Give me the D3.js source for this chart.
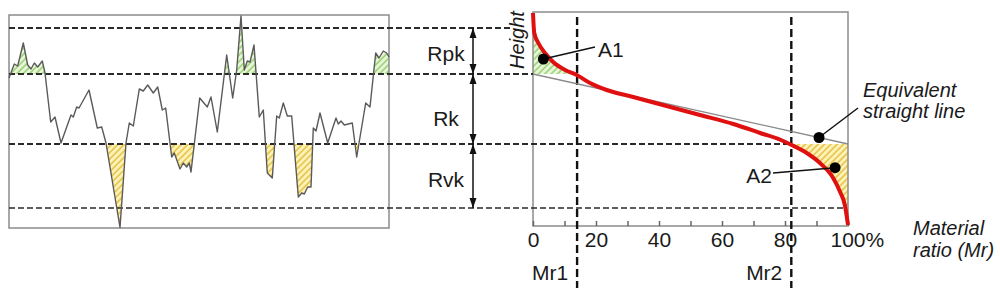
<!DOCTYPE html>
<html>
<head>
<meta charset="utf-8">
<script src="https://cdn.jsdelivr.net/npm/d3@7"></script>
<style>
  body { margin: 0; background: #fff; }
  svg { display: block; font-family: "Liberation Sans", Arial, sans-serif; }
</style>
</head>
<body>
<svg width="1000" height="288"></svg>
<script>
// roughness profile (position, height)
var profilePos = [0, 5.3, 8.7, 14.3, 18.7, 22, 25.3, 28.7, 33.3, 36, 41.7, 46, 52, 62, 64.3, 67.7, 70, 80, 88.3, 92.7, 97,
  111, 117, 120.3, 124.3, 130.3, 134.3, 138.7, 144.3, 148.7, 153.3, 156.7, 162.7, 165.3, 171, 174.3, 177.7, 180.3, 182,
  190.7, 198.3, 202, 208.3, 217.7, 223.7, 227.7, 232, 235.3, 238.3, 241, 245, 250.3, 254.3, 258.3, 263.3, 267.7, 270.3,
  274.3, 278.3, 282.7, 289.3, 292.7, 295.3, 298.7, 302, 304.3, 307, 311, 318.7, 327, 329.3, 332, 335.3, 343.3, 347.7,
  356.7, 361, 366.7, 370, 374.3, 377.7, 380];
var profileH = [15.0, 16.4, 16.2, 18.5, 16.3, 15.9, 16.5, 16.1, 16.7, 15.5, 10.6, 11.1, 8.5, 11.3, 11.1, 12.1, 12.0, 13.8, 10.0, 10.1, 8.5,
  0.05, 8.5, 10.5, 10.2, 13.9, 13.7, 14.3, 13.5, 14.1, 11.8, 12.0, 7.1, 7.5, 5.9, 6.5, 6.1, 6.5, 5.6,
  13.0, 12.1, 13.1, 9.6, 17.3, 13.0, 15.8, 21.2, 15.8, 16.7, 16.6, 18.3, 11.1, 11.8, 5.5, 5.0, 11.2, 11.0,
  12.5, 11.2, 11.2, 3.1, 3.5, 3.4, 4.1, 4.1, 10.0, 9.7, 11.5, 8.5, 11.0, 10.4, 10.7, 10.3, 10.5, 7.1,
  12.5, 12.1, 17.5, 17.0, 17.7, 17.5, 17.1];

// bearing (Abbott-Firestone) curve
var curveMr = [0, 0.4, 1.7, 3.8, 6.4, 10.2, 13.9, 18.1, 23.4, 31.8, 42.4, 53, 63.6, 72.1, 78.7, 82.1, 86.9, 91.1, 95.3, 97.5, 99, 100];
var curveH = [21.5, 19.5, 18.5, 17.5, 16.6, 15.8, 15.3, 14.5, 13.8, 13.1, 12.2, 11.3, 10.4, 9.5, 8.8, 8.3, 7.5, 6.5, 5.0, 3.6, 2.3, 0.3];

var levelH = [20.0, 15.4, 8.4, 2.0];
var levelNames = ["Rpk", "Rk", "Rvk"];
var mrLines = [14, 82];
var mrNames = ["Mr1", "Mr2"];
var tickVals = [0, 10, 20, 30, 40, 50, 60, 70, 80, 90, 100];
var equivMr = [0, 100];
var equivH = [15.4, 8.4];
var dotNames = ["A1", "A2", "Equivalent"];
var dotMr = [3.3, 95.9, 90.8];
var dotH = [16.9, 6.03, 9.05];

var svg = d3.select("svg");
var xP = d3.scaleLinear().domain([0, 380]).range([9, 389]);
var yH = d3.scaleLinear().domain([0, 21.3]).range([228, 15]);
var xR = d3.scaleLinear().domain([0, 100]).range([533, 848]);

var profile = profilePos.map(function(p, i) { return {x: xP(p), h: profileH[i]}; });
var curve = curveMr.map(function(m, i) { return {x: xR(m), h: curveH[i]}; });

var defs = svg.append("defs");
function hatch(id, bg, fg) {
  var p = defs.append("pattern").attr("id", id).attr("patternUnits", "userSpaceOnUse")
    .attr("width", 4.5).attr("height", 4.5).attr("patternTransform", "rotate(45)");
  p.append("rect").attr("width", 4.5).attr("height", 4.5).attr("fill", bg);
  p.append("line").attr("x1", 1).attr("y1", 0).attr("x2", 1).attr("y2", 4.5).attr("stroke", fg).attr("stroke-width", 1.4);
}
hatch("hG", "#e6f6d6", "#93cc6c");
hatch("hY", "#fdf2b8", "#e2bd3a");

function clip(id, x0, y0, x1, y1) {
  defs.append("clipPath").attr("id", id).append("rect")
    .attr("x", x0).attr("y", y0).attr("width", x1 - x0).attr("height", y1 - y0);
}
clip("cLG", 9, 0, 389, yH(levelH[1]));
clip("cLY", 9, yH(levelH[2]), 389, 230);
clip("cRG", 533, 0, 848, yH(levelH[1]));
clip("cRY", 533, yH(levelH[2]), 848, 230);

// hatched areas on the profile
var areaP = function(lv) {
  return d3.area().x(function(d) { return d.x; }).y0(yH(lv)).y1(function(d) { return yH(d.h); });
};
svg.append("path").attr("d", areaP(levelH[1])(profile)).attr("fill", "url(#hG)").attr("clip-path", "url(#cLG)");
svg.append("path").attr("d", areaP(levelH[2])(profile)).attr("fill", "url(#hY)").attr("clip-path", "url(#cLY)");

// hatched areas A1, A2
var areaC = function(lv) {
  return d3.area().curve(d3.curveMonotoneX).x(function(d) { return d.x; }).y0(yH(lv)).y1(function(d) { return yH(d.h); });
};
svg.append("path").attr("d", areaC(levelH[1])(curve)).attr("fill", "url(#hG)").attr("clip-path", "url(#cRG)");
svg.append("path").attr("d", areaC(levelH[2])(curve)).attr("fill", "url(#hY)").attr("clip-path", "url(#cRY)");

// frames
svg.append("rect").attr("x", 9).attr("y", 15).attr("width", 380).attr("height", 213)
  .attr("fill", "none").attr("stroke", "#8c8c8c").attr("stroke-width", 1.5);
svg.append("rect").attr("x", 533).attr("y", 12).attr("width", 315).attr("height", 214)
  .attr("fill", "none").attr("stroke", "#8c8c8c").attr("stroke-width", 1.5);

// axis
var axis = d3.axisBottom(xR).tickValues(tickVals).tickSizeInner(-5).tickSizeOuter(0).tickPadding(6)
  .tickFormat(function(d) { return d % 20 === 0 ? (d === 100 ? "100%" : d) : ""; });
var gAx = svg.append("g").attr("transform", "translate(0,226)").call(axis);
gAx.select(".domain").remove();
gAx.selectAll(".tick line").attr("stroke", "#666").attr("stroke-width", 1.5);
gAx.selectAll(".tick text").attr("font-size", 21).attr("fill", "#1a1a1a").attr("font-family", null);
gAx.selectAll(".tick text").filter(function(d) { return d === 100; }).attr("text-anchor", "start").attr("x", -18);

// horizontal dashed levels
var levelEnd = [510, xR(0), xR(mrLines[1]), xR(99)];
svg.selectAll(".lvl").data(levelH).enter().append("line").attr("class", "lvl")
  .attr("x1", 9).attr("x2", function(d, i) { return levelEnd[i]; })
  .attr("y1", function(d) { return yH(d); }).attr("y2", function(d) { return yH(d); })
  .attr("stroke", "#2a2a2a").attr("stroke-width", function(d, i) { return i === 3 ? 1.6 : 2; })
  .attr("stroke-dasharray", "6,3");

// vertical Mr lines
svg.selectAll(".mr").data(mrLines).enter().append("line").attr("class", "mr")
  .attr("x1", function(d) { return xR(d); }).attr("x2", function(d) { return xR(d); })
  .attr("y1", 17).attr("y2", 288)
  .attr("stroke", "#111").attr("stroke-width", 2.4).attr("stroke-dasharray", "8,4");
svg.selectAll(".mrt").data(mrNames).enter().append("text")
  .attr("x", function(d, i) { return xR(mrLines[i]) - 9; }).attr("y", 280)
  .attr("text-anchor", "end").attr("font-size", 21).attr("fill", "#1a1a1a").text(function(d) { return d; });

// profile line
svg.append("path").attr("d", d3.line().x(function(d) { return d.x; }).y(function(d) { return yH(d.h); })(profile))
  .attr("fill", "none").attr("stroke", "#5a5a5a").attr("stroke-width", 1.4).attr("stroke-linejoin", "round");

// arrows
defs.append("marker").attr("id", "ah").attr("viewBox", "0 -4 10 8").attr("refX", 10).attr("refY", 0)
  .attr("markerUnits", "userSpaceOnUse").attr("markerWidth", 10).attr("markerHeight", 8)
  .attr("orient", "auto-start-reverse")
  .append("path").attr("d", "M0,-3.5L10,0L0,3.5Z").attr("fill", "#111");
svg.selectAll(".arw").data(levelNames).enter().append("line").attr("class", "arw")
  .attr("x1", 473).attr("x2", 473)
  .attr("y1", function(d, i) { return yH(levelH[i]); }).attr("y2", function(d, i) { return yH(levelH[i + 1]); })
  .attr("stroke", "#111").attr("stroke-width", 1.5)
  .attr("marker-start", "url(#ah)").attr("marker-end", "url(#ah)");
var nameBase = [61, 126, 187];
svg.selectAll(".lvt").data(levelNames).enter().append("text")
  .attr("x", 446).attr("y", function(d, i) { return nameBase[i]; })
  .attr("text-anchor", "middle").attr("font-size", 21).attr("fill", "#1a1a1a").text(function(d) { return d; });

// equivalent straight line
svg.append("line").attr("x1", xR(equivMr[0])).attr("y1", yH(equivH[0]))
  .attr("x2", xR(equivMr[1])).attr("y2", yH(equivH[1]))
  .attr("stroke", "#8a8a8a").attr("stroke-width", 1.3);

// bearing curve
svg.append("path").attr("d", d3.line().curve(d3.curveMonotoneX).x(function(d) { return d.x; }).y(function(d) { return yH(d.h); })(curve))
  .attr("fill", "none").attr("stroke", "#e01010").attr("stroke-width", 4);

// dots with leaders
var leadEnd = [[595, 47], [773, 173], [858, 108]];
svg.selectAll(".ld").data(dotNames).enter().append("line")
  .attr("x1", function(d, i) { return xR(dotMr[i]); }).attr("y1", function(d, i) { return yH(dotH[i]); })
  .attr("x2", function(d, i) { return leadEnd[i][0]; }).attr("y2", function(d, i) { return leadEnd[i][1]; })
  .attr("stroke", "#111").attr("stroke-width", 1.5);
svg.selectAll(".dot").data(dotNames).enter().append("circle")
  .attr("cx", function(d, i) { return xR(dotMr[i]); }).attr("cy", function(d, i) { return yH(dotH[i]); })
  .attr("r", 5.5).attr("fill", "#000");

svg.append("text").attr("x", 598).attr("y", 57).attr("font-size", 21).attr("fill", "#1a1a1a").text("A1");
svg.append("text").attr("x", 772).attr("y", 183).attr("text-anchor", "end").attr("font-size", 21).attr("fill", "#1a1a1a").text("A2");

var it = svg.append("g").attr("font-style", "italic").attr("font-size", 20).attr("fill", "#1a1a1a");
it.append("text").attr("x", 863).attr("y", 97).text("Equivalent");
it.append("text").attr("x", 863).attr("y", 118).text("straight line");
it.append("text").attr("x", 913).attr("y", 235).text("Material");
it.append("text").attr("x", 913).attr("y", 257).text("ratio (Mr)");
it.append("text").attr("transform", "translate(524,40) rotate(-90)").attr("text-anchor", "middle").text("Height");
</script>
</body>
</html>
